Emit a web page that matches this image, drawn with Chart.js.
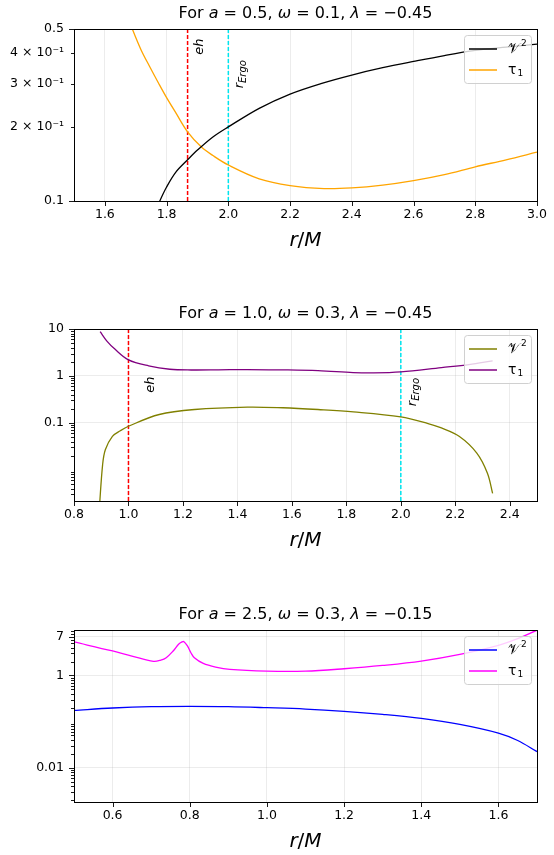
<!DOCTYPE html>
<html>
<head>
<meta charset="utf-8">
<script src="https://cdn.jsdelivr.net/npm/chart.js@4.4.0/dist/chart.umd.min.js"></script>
<style>
  body { margin: 0; background: #fff; width: 554px; height: 855px; position: relative; overflow: hidden; }
  .panel { position: absolute; left: 0; width: 554px; height: 260px; }
</style>
</head>
<body>
<div class="panel" style="top:0px"><canvas id="c1" width="554" height="260"></canvas></div>
<div class="panel" style="top:300px"><canvas id="c2" width="554" height="260"></canvas></div>
<div class="panel" style="top:601px"><canvas id="c3" width="554" height="260"></canvas></div>
<script>
// ---- panel 1: a = 0.5, omega = 0.1, lambda = -0.45
const rV_1 = [1.76, 1.778, 1.8, 1.83, 1.868, 1.9, 1.95, 2.0, 2.1, 2.2, 2.3, 2.4, 2.5, 2.6, 2.7, 2.8, 2.9, 3.0]
const V2_1 = [0.088, 0.100, 0.114, 0.131, 0.147, 0.161, 0.182, 0.200, 0.238, 0.272, 0.300, 0.325, 0.348, 0.369, 0.390, 0.409, 0.422, 0.434]
const rT_1 = [1.68, 1.689, 1.717, 1.745, 1.774, 1.8, 1.831, 1.868, 1.912, 1.95, 2.0, 2.1, 2.2, 2.31, 2.4, 2.5, 2.6, 2.7, 2.8, 2.9, 3.0]
const T1_1 = [0.54, 0.50, 0.412, 0.352, 0.301, 0.263, 0.227, 0.191, 0.166, 0.153, 0.140, 0.123, 0.1155, 0.1123, 0.113, 0.116, 0.121, 0.128, 0.1377, 0.147, 0.158]
const eh_1 = 1.868
const rErgo_1 = 2.0
const xTicks_1 = [1.6, 1.8, 2.0, 2.2, 2.4, 2.6, 2.8, 3.0]
const yMajor_1 = [0.1, 0.5]
const yMinor_1 = [0.2, 0.3, 0.4]
const yLabelVals_1 = [0.1, 0.2, 0.3, 0.4, 0.5]
const yLabels_1 = ['0.1', '2 × 10⁻¹', '3 × 10⁻¹', '4 × 10⁻¹', '0.5']

// ---- panel 2: a = 1.0, omega = 0.3, lambda = -0.45
const rV_2 = [0.893, 0.905, 0.915, 0.941, 0.97, 1.0, 1.113, 1.243, 1.437, 1.567, 1.696, 1.826, 2.0, 2.1, 2.149, 2.214, 2.279, 2.318, 2.337]
const V2_2 = [0.0015, 0.0128, 0.0268, 0.0518, 0.068, 0.0848, 0.151, 0.193, 0.217, 0.210, 0.193, 0.172, 0.134, 0.097, 0.078, 0.052, 0.0228, 0.0085, 0.00316]
const rT_2 = [0.896, 0.92, 0.95, 1.0, 1.074, 1.152, 1.23, 1.33, 1.437, 1.55, 1.696, 1.825, 1.9, 2.0, 2.149, 2.25, 2.337]
const T1_2 = [8.77, 5.6, 3.73, 2.2, 1.64, 1.39, 1.34, 1.35, 1.37, 1.35, 1.30, 1.18, 1.16, 1.22, 1.51, 1.75, 2.1]
const eh_2 = 1.0
const rErgo_2 = 2.0
const xTicks_2 = [0.8, 1.0, 1.2, 1.4, 1.6, 1.8, 2.0, 2.2, 2.4]
const yMajor_2 = [0.1, 1, 10]
const yLabelVals_2 = [0.1, 1, 10]
const yLabels_2 = ['0.1', '1', '10']

// ---- panel 3: a = 2.5, omega = 0.3, lambda = -0.15
const rV_3 = [0.5, 0.6, 0.7, 0.8, 0.9, 1.0, 1.1, 1.2, 1.3, 1.4, 1.5, 1.6, 1.65, 1.7]
const V2_3 = [0.175, 0.197, 0.211, 0.214, 0.211, 0.200, 0.187, 0.167, 0.143, 0.117, 0.0867, 0.0561, 0.0388, 0.0223]
const rT_3 = [0.5, 0.6, 0.65, 0.706, 0.725, 0.739, 0.757, 0.771, 0.78, 0.785, 0.794, 0.803, 0.812, 0.835, 0.867, 0.904, 1.0, 1.1, 1.2, 1.3, 1.4, 1.5, 1.6, 1.65, 1.7]
const T1_3 = [5.34, 3.40, 2.64, 2.02, 2.15, 2.43, 3.4, 4.75, 5.34, 5.42, 4.37, 3.12, 2.43, 1.83, 1.52, 1.35, 1.24, 1.24, 1.40, 1.65, 2.05, 2.87, 4.51, 6.3, 9.6]
const xTicks_3 = [0.6, 0.8, 1.0, 1.2, 1.4, 1.6]
const yMajor_3 = [0.01, 1, 7]
const yLabelVals_3 = [0.01, 1, 7]
const yLabels_3 = ['0.01', '1', '7']

const FONT = '"DejaVu Sans"'
const GRID = 'rgba(176,176,176,0.3)'

// minor log ticks 2..9 x 10^e between lo and hi
function minorTicks(lo, hi, skip) {
    const out = []
    for (let e = -3; e <= 1; e++) {
        for (let m = 2; m <= 9; m++) {
            const v = +(m * Math.pow(10, e)).toPrecision(3)
            if (v >= lo && v <= hi && !(skip || []).includes(v)) out.push(v)
        }
    }
    return out
}

function drawParts(ctx, parts, cx, cy, size) {
    let w = 0
    parts.forEach(p => {
        ctx.font = (p[1] ? 'italic ' : '') + size + 'px ' + FONT
        w += ctx.measureText(p[0]).width
    })
    let x = cx - w / 2
    ctx.textAlign = 'left'
    ctx.textBaseline = 'middle'
    parts.forEach(p => {
        ctx.font = (p[1] ? 'italic ' : '') + size + 'px ' + FONT
        ctx.fillText(p[0], x, cy)
        x += ctx.measureText(p[0]).width
    })
}

function makeDecor(P) {
    return {
        id: 'decor',
        afterDatasetsDraw(chart) {
            const ctx = chart.ctx, ca = chart.chartArea
            const sx = chart.scales.x, sy = chart.scales.y
            ctx.save()
            ctx.strokeStyle = '#000'
            ctx.lineWidth = 0.9
            ctx.beginPath()
            sx.ticks.forEach(t => {
                const p = Math.round(sx.getPixelForValue(t.value)) + 0.5
                ctx.moveTo(p, ca.bottom)
                ctx.lineTo(p, ca.bottom + 5)
            })
            sy.ticks.forEach(t => {
                const p = Math.round(sy.getPixelForValue(t.value)) + 0.5
                ctx.moveTo(ca.left, p)
                ctx.lineTo(ca.left - (t.major ? 5 : 3), p)
            })
            ctx.stroke()
            ctx.lineWidth = 1
            ctx.strokeRect(Math.round(ca.left) + 0.5, Math.round(ca.top) + 0.5, Math.round(ca.width), Math.round(ca.height))

            // rotated labels next to the vertical lines
            ctx.fillStyle = '#000'
            P.marks.forEach(m => {
                ctx.save()
                ctx.translate(sx.getPixelForValue(m.x), sy.getPixelForValue(m.y))
                ctx.rotate(-Math.PI / 2)
                ctx.textAlign = 'left'
                ctx.textBaseline = 'alphabetic'
                ctx.font = 'italic 13px ' + FONT
                ctx.fillText(m.text, 0, 0)
                if (m.sub) {
                    const w = ctx.measureText(m.text).width
                    ctx.font = 'italic 10px ' + FONT
                    ctx.fillText(m.sub, w, 3)
                }
                ctx.restore()
            })

            // legend box, upper right inside the axes
            const bw = 67, bh = 48
            const bx = ca.right - 6 - bw, by = ca.top + 6
            ctx.beginPath()
            ctx.roundRect(bx + 0.5, by + 0.5, bw, bh, 3)
            ctx.fillStyle = 'rgba(255,255,255,0.8)'
            ctx.fill()
            ctx.strokeStyle = '#d0d0d0'
            ctx.lineWidth = 1
            ctx.stroke()
            P.legend.forEach((it, i) => {
                const y = by + 14 + i * 21
                ctx.strokeStyle = it.color
                ctx.lineWidth = 1.5
                ctx.beginPath()
                ctx.moveTo(bx + 5, y)
                ctx.lineTo(bx + 33, y)
                ctx.stroke()
                ctx.fillStyle = '#000'
                ctx.textAlign = 'left'
                ctx.textBaseline = 'middle'
                ctx.font = '14px ' + FONT
                ctx.fillText(it.text, bx + 44, y)
                const w = ctx.measureText(it.text).width
                ctx.font = '9px ' + FONT
                ctx.fillText(it.idx, bx + 44 + w + 1, y + (it.up ? -5 : 4))
            })
            ctx.restore()
        },
        afterDraw(chart) {
            const ctx = chart.ctx, ca = chart.chartArea
            const cx = (ca.left + ca.right) / 2
            ctx.save()
            ctx.fillStyle = '#000'
            drawParts(ctx, P.title, cx, ca.top - 15, 16)
            drawParts(ctx, [['r', 1], ['/', 0], ['M', 1]], cx, ca.bottom + 40, 20)
            ctx.restore()
        }
    }
}

function makePanel(id, P) {
    const series = P.series.map(s => ({
        data: s.r.map((r, i) => ({ x: r, y: s.v[i] })),
        borderColor: s.color,
        borderWidth: 1.3,
        tension: 0.35,
        cubicInterpolationMode: 'default'
    }))
    const vlines = P.vlines.map(l => ({
        data: [{ x: l.r, y: P.ymin }, { x: l.r, y: P.ymax }],
        borderColor: l.color,
        borderWidth: 1.5,
        borderDash: [4, 2],
        tension: 0
    }))
    const yTicks = P.yMajor.map(v => ({ value: v, major: true }))
        .concat(P.yMinor.map(v => ({ value: v, major: false })))
        .sort((a, b) => a.value - b.value)

    return new Chart(document.getElementById(id).getContext('2d'), {
        type: 'line',
        data: { datasets: series.concat(vlines) },
        options: {
            responsive: false,
            animation: false,
            layout: { padding: { top: 29, right: 17, bottom: 0, left: 0 } },
            elements: { point: { radius: 0 } },
            plugins: { legend: { display: false }, title: { display: false }, tooltip: { enabled: false } },
            scales: {
                x: {
                    type: 'linear', min: P.xmin, max: P.xmax,
                    afterBuildTicks: s => { s.ticks = P.xTicks.map(v => ({ value: v, major: true })) },
                    afterFit: s => { s.height = 59 },
                    grid: { color: GRID, lineWidth: 0.8, drawTicks: false },
                    border: { display: false },
                    ticks: {
                        autoSkip: false, maxRotation: 0, padding: 6, color: '#000',
                        font: { family: 'DejaVu Sans', size: 12.5 },
                        callback: v => v.toFixed(1)
                    }
                },
                y: {
                    type: 'logarithmic', min: P.ymin, max: P.ymax,
                    afterBuildTicks: s => { s.ticks = yTicks.map(t => ({ ...t })) },
                    afterFit: s => { s.width = 74 },
                    grid: {
                        color: c => (c.tick && c.tick.major && P.hgrid) ? GRID : 'rgba(0,0,0,0)',
                        lineWidth: 0.8, drawTicks: false
                    },
                    border: { display: false },
                    ticks: {
                        autoSkip: false, padding: 10, color: '#000',
                        font: { family: 'DejaVu Sans', size: 12.5 },
                        callback: v => {
                            const i = P.yLabelVals.findIndex(u => Math.abs(u - v) < 1e-9)
                            return i >= 0 ? P.yLabels[i] : ''
                        }
                    }
                }
            }
        },
        plugins: [makeDecor(P)]
    })
}

makePanel('c1', {
    title: [['For ', 0], ['a', 1], [' = 0.5, ', 0], ['ω', 1], [' = 0.1, ', 0], ['λ', 1], [' = −0.45', 0]],
    xmin: 1.5, xmax: 3.0, ymin: 0.1, ymax: 0.5,
    xTicks: xTicks_1, yMajor: yMajor_1, yMinor: yMinor_1,
    yLabelVals: yLabelVals_1, yLabels: yLabels_1, hgrid: false,
    series: [
        { r: rV_1, v: V2_1, color: '#000000' },
        { r: rT_1, v: T1_1, color: '#ffa500' }
    ],
    vlines: [{ r: eh_1, color: '#ff0000' }, { r: rErgo_1, color: '#00e5ee' }],
    marks: [{ x: 1.917, y: 0.393, text: 'eh' }, { x: 2.047, y: 0.287, text: 'r', sub: 'Ergo' }],
    legend: [
        { text: '𝒱', idx: '2', up: true, color: '#000000' },
        { text: 'τ', idx: '1', up: false, color: '#ffa500' }
    ]
})

makePanel('c2', {
    title: [['For ', 0], ['a', 1], [' = 1.0, ', 0], ['ω', 1], [' = 0.3, ', 0], ['λ', 1], [' = −0.45', 0]],
    xmin: 0.8, xmax: 2.5, ymin: 0.00217, ymax: 10,
    xTicks: xTicks_2, yMajor: yMajor_2, yMinor: minorTicks(0.00217, 10),
    yLabelVals: yLabelVals_2, yLabels: yLabels_2, hgrid: true,
    series: [
        { r: rV_2, v: V2_2, color: '#808000' },
        { r: rT_2, v: T1_2, color: '#800080' }
    ],
    vlines: [{ r: eh_2, color: '#ff0000' }, { r: rErgo_2, color: '#00e5ee' }],
    marks: [{ x: 1.092, y: 0.44, text: 'eh' }, { x: 2.055, y: 0.227, text: 'r', sub: 'Ergo' }],
    legend: [
        { text: '𝒱', idx: '2', up: true, color: '#808000' },
        { text: 'τ', idx: '1', up: false, color: '#800080' }
    ]
})

makePanel('c3', {
    title: [['For ', 0], ['a', 1], [' = 2.5, ', 0], ['ω', 1], [' = 0.3, ', 0], ['λ', 1], [' = −0.15', 0]],
    xmin: 0.5, xmax: 1.7, ymin: 0.0018, ymax: 9.7,
    xTicks: xTicks_3, yMajor: yMajor_3, yMinor: minorTicks(0.0018, 9.7, [7]),
    yLabelVals: yLabelVals_3, yLabels: yLabels_3, hgrid: true,
    series: [
        { r: rV_3, v: V2_3, color: '#0000ff' },
        { r: rT_3, v: T1_3, color: '#ff00ff' }
    ],
    vlines: [],
    marks: [],
    legend: [
        { text: '𝒱', idx: '2', up: true, color: '#0000ff' },
        { text: 'τ', idx: '1', up: false, color: '#ff00ff' }
    ]
})
</script>
</body>
</html>
